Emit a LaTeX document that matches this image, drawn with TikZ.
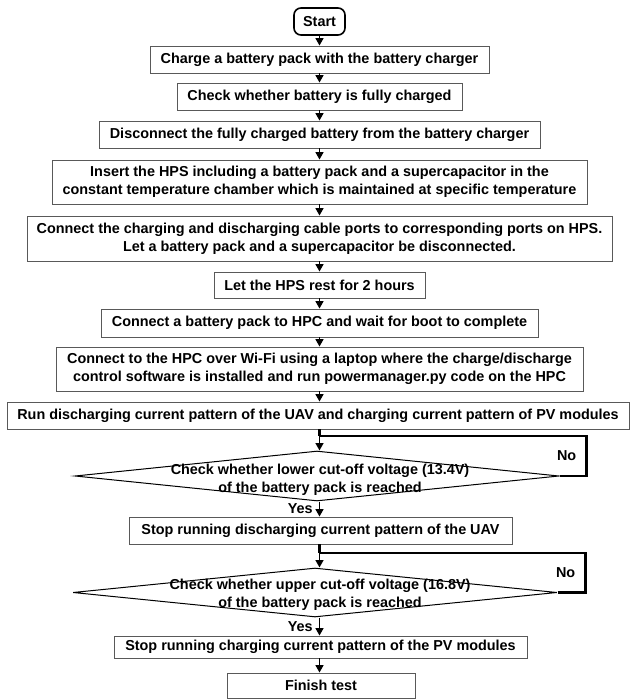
\documentclass[tikz,border=0pt]{standalone}
\usepackage{fontspec}
\setmainfont{Liberation Sans}
\usetikzlibrary{arrows.meta,shapes.geometric,calc}

\tikzset{
  txt/.style={font=\bfseries\fontsize{14.4}{18}\selectfont},
  stepbox/.style={txt, draw=black!65, line width=0.9pt, fill=white,
    inner sep=0pt, align=center},
  startbox/.style={txt, draw=black, line width=1.6pt, rounded corners=7pt,
    inner sep=0pt, minimum width=51pt, minimum height=27pt},
  decision/.style={diamond, draw=black, line width=1pt, inner sep=0pt,
    aspect=9},
  flow/.style={draw=black, line width=1.6pt,
    -{Triangle[length=7.5pt,width=8pt]}},
  backloop/.style={draw=black, line width=2.6pt},
  labeltxt/.style={txt, inner sep=0pt}
}

\begin{document}
\begin{tikzpicture}[x=1pt,y=-1pt]
  % page frame
  \useasboundingbox[fill=white] (0,0) rectangle (630,700);

  % process steps
  \node[startbox] (start) at (319.5,21.5) {Start};
  \node[stepbox, minimum width=339pt, minimum height=27pt] (charge) at (319.5,59.5)
    {Charge a battery pack with the battery charger};
  \node[stepbox, minimum width=285pt, minimum height=27pt] (full) at (319.5,96.5)
    {Check whether battery is fully charged};
  \node[stepbox, minimum width=441pt, minimum height=27pt] (disc) at (319.5,134.5)
    {Disconnect the fully charged battery from the battery charger};
  \node[stepbox, minimum width=535pt, minimum height=44pt] (insert) at (319.5,182)
    {Insert the HPS including a battery pack and a supercapacitor in the\\
     constant temperature chamber which is maintained at specific temperature};
  \node[stepbox, minimum width=585pt, minimum height=45pt] (ports) at (319.5,238.5)
    {Connect the charging and discharging cable ports to corresponding ports on HPS.\\
     Let a battery pack and a supercapacitor be disconnected.};
  \node[stepbox, minimum width=211pt, minimum height=26pt] (rest) at (319.5,285)
    {Let the HPS rest for 2 hours};
  \node[stepbox, minimum width=437pt, minimum height=28pt] (boot) at (319.5,323)
    {Connect a battery pack to HPC and wait for boot to complete};
  \node[stepbox, minimum width=527pt, minimum height=44pt] (wifi) at (319.5,369)
    {Connect to the HPC over Wi-Fi using a laptop where the charge/discharge\\
     control software is installed and run powermanager.py code on the HPC};
  \node[stepbox, minimum width=622pt, minimum height=27pt] (run) at (318,415.5)
    {Run discharging current pattern of the UAV and charging current pattern of PV modules};

  % first check
  \node[decision, minimum width=484pt, minimum height=50pt] (low) at (317,476) {};
  \node[labeltxt, align=center] (lowtxt) at (320,479.5)
    {Check whether lower cut-off voltage (13.4V)\\of the battery pack is reached};
  \node[stepbox, minimum width=383pt, minimum height=27pt] (stopd) at (320.5,530.5)
    {Stop running discharging current pattern of the UAV};

  % second check
  \node[decision, minimum width=484pt, minimum height=49pt] (up) at (315,592.5) {};
  \node[labeltxt, align=center] (uptxt) at (320,595)
    {Check whether upper cut-off voltage (16.8V)\\of the battery pack is reached};
  \node[stepbox, minimum width=413pt, minimum height=22pt] (stopc) at (320.5,647)
    {Stop running charging current pattern of the PV modules};
  \node[stepbox, minimum width=188pt, minimum height=25pt] (finish) at (321,685.5)
    {Finish test};

  % junctions where the loops re-enter the main line
  \coordinate (j1) at (319.5,436);
  \coordinate (j2) at (319.5,553);

  % straight connectors
  \draw[flow] (start) -- (charge);
  \draw[flow] (charge) -- (full);
  \draw[flow] (full) -- (disc);
  \draw[flow] (disc) -- (insert);
  \draw[flow] (insert) -- (ports);
  \draw[flow] (ports) -- (rest);
  \draw[flow] (rest) -- (boot);
  \draw[flow] (boot) -- (wifi);
  \draw[flow] (wifi) -- (run.north -| wifi.south);

  \draw[backloop] (run.south -| j1) -- (j1);
  \draw[flow] (j1) -- (j1 |- low.north);
  \draw[flow] (j1 |- low.south) -- node[labeltxt, left=6pt] {Yes} (stopd.north -| j1);

  \draw[backloop] (stopd.south -| j2) -- (j2);
  \draw[flow] (j2) -- (j2 |- up.north);
  \draw[flow] (j2 |- up.south) -- node[labeltxt, left=6pt] {Yes} (stopc.north -| j2);
  \draw[flow] (stopc.south -| j2) -- (finish.north -| j2);

  % "No" feedback loops
  \draw[backloop] (low.east) -- ++(27,0) |- (j1)
    node[labeltxt, pos=0.25, left=9pt] {No};
  \draw[backloop] (up.east) -- ++(28,0) |- (j2)
    node[labeltxt, pos=0.25, left=9pt] {No};
\end{tikzpicture}
\end{document}
